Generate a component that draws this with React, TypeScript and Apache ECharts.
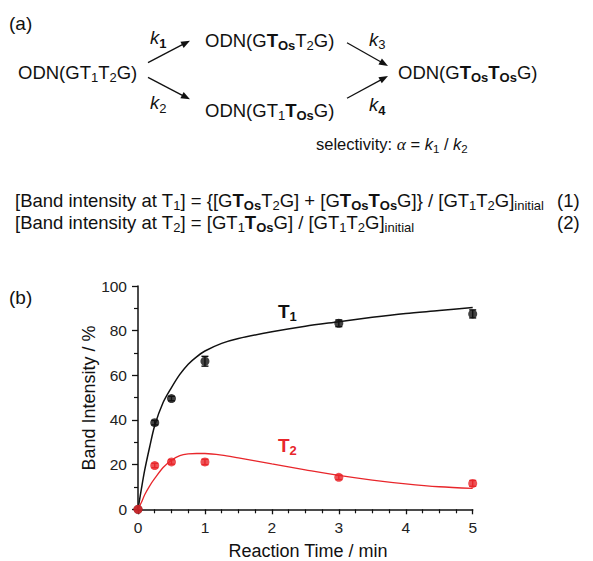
import React, { useEffect, useRef } from 'react';
import * as echarts from 'echarts';

// ---- data ----
const timeMin = [0, 0.25, 0.5, 1, 3, 5];
const t1Band = [0, 38.8, 49.6, 66.3, 83.3, 87.5];
const t1Err = [0, 1.0, 1.0, 2.2, 1.5, 1.8];
const t2Band = [0, 19.6, 21.2, 21.2, 14.3, 11.6];
const t2Err = [0, 1.0, 1.0, 1.2, 1.0, 1.3];

const fitTime = [0, 0.05, 0.1, 0.175, 0.25, 0.375, 0.5, 0.625, 0.75, 0.875, 1, 1.25, 1.5, 2, 2.5, 3, 3.5, 4, 4.5, 5];
const t1Fit = [0, 9, 17.5, 28, 37.5, 47.8, 54.5, 60.4, 65, 68.3, 70.9, 74.3, 76.5, 79.5, 82, 84, 86, 87.7, 89, 90.4];
const t2Fit = [0, 3, 6.5, 10.5, 13.8, 18.7, 22, 24, 24.8, 25, 25, 24.3, 23, 20.3, 17.7, 15.2, 13.1, 11.4, 10.1, 9.4];

const xMin = 0, xMax = 5, xStep = 1;
const yMin = 0, yMax = 100, yStep = 20;

const xTitle = 'Reaction Time / min';
const yTitle = 'Band Intensity / %';

const FF = '"Liberation Sans", Arial, Helvetica, sans-serif';
const SERIF = '"Liberation Serif", "DejaVu Serif", serif';
const INK = '#111';
const RED = '#e8262b';

const schemeRich: any = {
  n: { fontSize: 18.5, fontFamily: FF, lineHeight: 24, verticalAlign: 'middle', fill: INK },
  b: { fontSize: 18.5, fontFamily: FF, fontWeight: 'bold', lineHeight: 24, verticalAlign: 'middle', fill: INK },
  s: { fontSize: 13, fontFamily: FF, lineHeight: 13, verticalAlign: 'bottom', fill: INK },
  sb: { fontSize: 13, fontFamily: FF, fontWeight: 'bold', lineHeight: 13, verticalAlign: 'bottom', fill: INK },
  so: { fontSize: 13, fontFamily: FF, fontWeight: 'bold', lineHeight: 13, verticalAlign: 'bottom', fill: INK },
  i: { fontSize: 18.5, fontFamily: FF, fontStyle: 'italic', lineHeight: 24, verticalAlign: 'middle', fill: INK },
};

const selRich: any = {
  m: { fontSize: 16.5, fontFamily: FF, lineHeight: 21, verticalAlign: 'middle', fill: INK },
  a: { fontSize: 17.5, fontFamily: SERIF, fontStyle: 'italic', lineHeight: 21, verticalAlign: 'middle', fill: INK },
  mi: { fontSize: 16.5, fontFamily: FF, fontStyle: 'italic', lineHeight: 21, verticalAlign: 'middle', fill: INK },
  ms: { fontSize: 11.5, fontFamily: FF, lineHeight: 12, verticalAlign: 'bottom', fill: INK },
};

const eqRich: any = {
  e: { fontSize: 18.5, fontFamily: FF, lineHeight: 23.5, verticalAlign: 'middle', fill: INK },
  eb: { fontSize: 18.5, fontFamily: FF, fontWeight: 'bold', lineHeight: 23.5, verticalAlign: 'middle', fill: INK },
  es: { fontSize: 13, fontFamily: FF, lineHeight: 13, verticalAlign: 'bottom', fill: INK },
  eso: { fontSize: 13, fontFamily: FF, fontWeight: 'bold', lineHeight: 13, verticalAlign: 'bottom', fill: INK },
};

const chartRich = (color: string): any => ({
  t: { fontSize: 19, fontFamily: FF, fontWeight: 'bold', lineHeight: 24, verticalAlign: 'middle', fill: color },
  ts: { fontSize: 13, fontFamily: FF, fontWeight: 'bold', lineHeight: 13, verticalAlign: 'bottom', fill: color },
});

function richText(x: number, y: number, text: string, rich: any, extra: any = {}) {
  return {
    type: 'text',
    x,
    y,
    silent: true,
    style: {
      text,
      rich,
      font: `18.5px ${FF}`,
      fill: INK,
      textAlign: 'left',
      textVerticalAlign: 'middle',
      ...extra,
    },
  };
}

function arrow(x1: number, y1: number, x2: number, y2: number) {
  const dx = x2 - x1, dy = y2 - y1;
  const L = Math.hypot(dx, dy);
  const ux = dx / L, uy = dy / L;
  const hl = 9, hw = 3.5;
  const bx = x2 - ux * hl, by = y2 - uy * hl;
  return [
    { type: 'line', silent: true, shape: { x1, y1, x2: bx + ux * 2, y2: by + uy * 2 }, style: { stroke: INK, lineWidth: 1.3 } },
    {
      type: 'polygon',
      silent: true,
      shape: { points: [[x2, y2], [bx - uy * hw, by + ux * hw], [bx + uy * hw, by - ux * hw]] },
      style: { fill: INK },
    },
  ];
}

function errorBars(color: string, vals: number[], errs: number[]) {
  return {
    type: 'custom',
    z: 5,
    clip: false,
    renderItem: (params: any, api: any) => {
      const x = api.value(0), y = api.value(1), e = api.value(2);
      if (!e) return { type: 'group', children: [] };
      const top = api.coord([x, y + e]);
      const bot = api.coord([x, y - e]);
      const w = 3.5;
      const st = { stroke: color, lineWidth: 1.4 };
      return {
        type: 'group',
        children: [
          { type: 'line', shape: { x1: top[0], y1: top[1], x2: bot[0], y2: bot[1] }, style: st },
          { type: 'line', shape: { x1: top[0] - w, y1: top[1], x2: top[0] + w, y2: top[1] }, style: st },
          { type: 'line', shape: { x1: bot[0] - w, y1: bot[1], x2: bot[0] + w, y2: bot[1] }, style: st },
        ],
      };
    },
    data: timeMin.map((t, i) => [t, vals[i], errs[i]]),
  };
}

export default function App() {
  const ref = useRef<HTMLDivElement>(null);
  useEffect(() => {
    if (!ref.current) return;
    const chart = echarts.init(ref.current, undefined, { renderer: 'svg' });
    const option: any = {
      animation: false,
      backgroundColor: '#fff',
      grid: { left: 138, right: 120.3, top: 286, bottom: 51.7, containLabel: false },
      xAxis: {
        type: 'value',
        min: xMin,
        max: xMax,
        interval: xStep,
        axisLine: { show: true, onZero: false, lineStyle: { color: INK, width: 1.5 } },
        axisTick: { show: true, length: 5, lineStyle: { color: INK, width: 1.3 } },
        minorTick: { show: true, splitNumber: 4, length: 4, lineStyle: { color: INK, width: 1.2 } },
        splitLine: { show: false },
        axisLabel: { color: '#222', fontSize: 15.5, fontFamily: FF, margin: 10 },
      },
      yAxis: {
        type: 'value',
        min: yMin,
        max: yMax,
        interval: yStep,
        axisLine: { show: true, onZero: false, lineStyle: { color: INK, width: 1.5 } },
        axisTick: { show: true, length: 6, lineStyle: { color: INK, width: 1.3 } },
        minorTick: { show: true, splitNumber: 2, length: 4, lineStyle: { color: INK, width: 1.2 } },
        splitLine: { show: false },
        axisLabel: { color: '#222', fontSize: 15.5, fontFamily: FF, margin: 11 },
      },
      series: [
        {
          type: 'line',
          smooth: 0.3,
          showSymbol: false,
          z: 2,
          lineStyle: { color: INK, width: 1.5 },
          data: fitTime.map((t, i) => [t, t1Fit[i]]),
        },
        {
          type: 'line',
          smooth: 0.3,
          showSymbol: false,
          z: 3,
          lineStyle: { color: RED, width: 1.3 },
          data: fitTime.map((t, i) => [t, t2Fit[i]]),
        },
        errorBars(INK, t1Band, t1Err),
        errorBars(RED, t2Band, t2Err),
        {
          type: 'scatter',
          symbol: 'circle',
          symbolSize: 9,
          clip: false,
          z: 6,
          itemStyle: { color: INK },
          data: timeMin.map((t, i) => [t, t1Band[i]]),
        },
        {
          type: 'scatter',
          symbol: 'circle',
          symbolSize: 9,
          clip: false,
          z: 7,
          itemStyle: { color: RED },
          data: timeMin.map((t, i) => [t, t2Band[i]]),
        },
      ],
      graphic: [
        // part (a)
        richText(9, 23, '(a)', {}, { font: `19px ${FF}` }),
        richText(18, 72, '{n|ODN(GT}{s|1}{n|T}{s|2}{n|G)}', schemeRich),
        richText(150, 37.5, '{i|k}{sb|1}', schemeRich),
        richText(150, 102.5, '{i|k}{s|2}', schemeRich),
        richText(369, 39, '{i|k}{s|3}', schemeRich),
        richText(369, 104.5, '{i|k}{sb|4}', schemeRich),
        richText(205, 40, '{n|ODN(G}{b|T}{so|Os}{n|T}{s|2}{n|G)}', schemeRich),
        richText(205, 110, '{n|ODN(GT}{s|1}{b|T}{so|Os}{n|G)}', schemeRich),
        richText(398, 72, '{n|ODN(G}{b|T}{so|Os}{b|T}{so|Os}{n|G)}', schemeRich),
        ...arrow(148, 62.7, 190, 40.7),
        ...arrow(148, 77.3, 190, 99.3),
        ...arrow(347, 42.7, 388, 66),
        ...arrow(347, 98.3, 388, 76),
        richText(316, 144, '{m|selectivity: }{a|α}{m| = }{mi|k}{ms|1}{m| / }{mi|k}{ms|2}', selRich),
        // equations
        richText(
          15,
          200,
          '{e|[Band intensity at T}{es|1}{e|] = {[G}{eb|T}{eso|Os}{e|T}{es|2}{e|G] + [G}{eb|T}{eso|Os}{eb|T}{eso|Os}{e|G]}}{e| / [GT}{es|1}{e|T}{es|2}{e|G]}{es|initial}',
          eqRich
        ),
        richText(557, 200, '(1)', {}, { font: `18.5px ${FF}` }),
        richText(
          15,
          222,
          '{e|[Band intensity at T}{es|2}{e|] = [GT}{es|1}{eb|T}{eso|Os}{e|G] / [GT}{es|1}{e|T}{es|2}{e|G]}{es|initial}',
          eqRich
        ),
        richText(557, 222, '(2)', {}, { font: `18.5px ${FF}` }),
        // part (b)
        richText(9, 297, '(b)', {}, { font: `19px ${FF}` }),
        richText(278, 311, '{t|T}{ts|1}', chartRich(INK)),
        richText(278, 445, '{t|T}{ts|2}', chartRich(RED)),
        {
          type: 'text',
          x: 89,
          y: 398,
          rotation: Math.PI / 2,
          silent: true,
          style: { text: yTitle, font: `18px ${FF}`, fill: INK, textAlign: 'center', textVerticalAlign: 'middle' },
        },
        {
          type: 'text',
          x: 308,
          y: 551,
          silent: true,
          style: { text: xTitle, font: `18px ${FF}`, fill: INK, textAlign: 'center', textVerticalAlign: 'middle' },
        },
      ],
    };
    chart.setOption(option);
    return () => chart.dispose();
  }, []);
  return (
    <div
      ref={ref}
      style={{ position: 'fixed', left: 0, top: 0, width: 593, height: 561, background: '#fff' }}
    />
  );
}
